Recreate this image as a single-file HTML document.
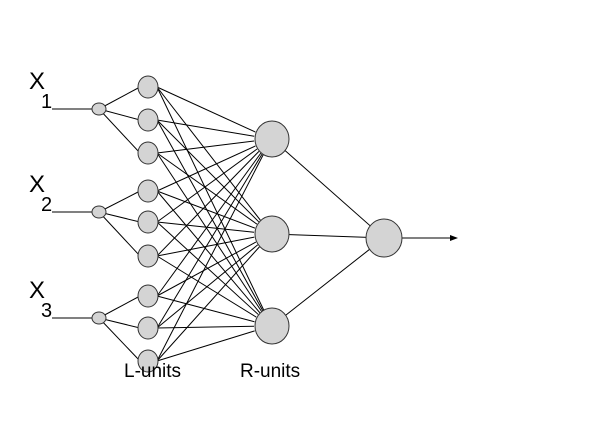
<!DOCTYPE html>
<html><head><meta charset="utf-8"><style>
html,body{margin:0;padding:0;background:#fff;}
svg{display:block;}
text{font-family:"Liberation Sans",sans-serif;fill:#000;}
</style></head><body>
<svg id="s" width="604" height="425" viewBox="0 0 604 425" xmlns="http://www.w3.org/2000/svg">
<rect width="604" height="425" fill="#fff"/>
<g id="lines" stroke="#000" stroke-width="1" fill="none"></g>
<g id="nodes" fill="#d4d4d4" stroke="#333" stroke-width="1"></g>
<text x="29" y="89" font-size="24">X</text><text x="41" y="108" font-size="20">1</text>
<text x="29" y="192" font-size="24">X</text><text x="41" y="211" font-size="20">2</text>
<text x="29" y="298" font-size="24">X</text><text x="41" y="317" font-size="20">3</text>
<text x="124" y="377" font-size="19">L-units</text>
<text x="240" y="377" font-size="19">R-units</text>
<polygon points="458,238 450,235 450,241" fill="#000"/>
</svg>
<script>
var NS="http://www.w3.org/2000/svg";
var L=document.getElementById("lines"),N=document.getElementById("nodes");
function ln(a,b,c,d){var e=document.createElementNS(NS,"line");e.setAttribute("x1",a);e.setAttribute("y1",b);e.setAttribute("x2",c);e.setAttribute("y2",d);L.appendChild(e);}
function el(x,y,rx,ry){var e=document.createElementNS(NS,"ellipse");e.setAttribute("cx",x);e.setAttribute("cy",y);e.setAttribute("rx",rx);e.setAttribute("ry",ry);N.appendChild(e);}
var inY=[109,212,318],Ly=[87,120,153,191,222,256,296,328,361],Ry=[139,234,326];
for(var i=0;i<3;i++){ln(52,inY[i],92,inY[i]);for(var j=0;j<3;j++)ln(99,inY[i],140,Ly[i*3+j]);}
for(var k=0;k<9;k++)for(var r=0;r<3;r++){
 var dx=148-272,dy=Ly[k]-Ry[r],d=Math.sqrt(dx*dx+dy*dy);
 ln(157,Ly[k]+(dy<0?0:0),272+dx/d*18,Ry[r]+dy/d*18);
}
for(var r=0;r<3;r++)ln(272,Ry[r],384,238);
ln(384,238,452,238);
for(var i=0;i<3;i++)el(99,inY[i],7,6);
for(var k=0;k<9;k++)el(148,Ly[k],10,11);
for(var r=0;r<3;r++)el(272,Ry[r],17,18);
el(384,238,18,19);
</script>
</body></html>
